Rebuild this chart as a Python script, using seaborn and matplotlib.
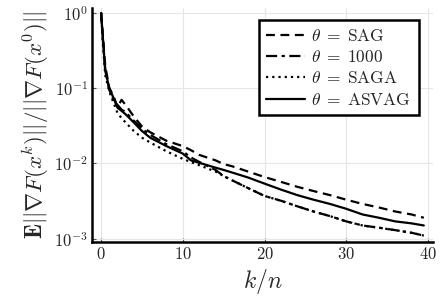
import numpy as np
import pandas as pd
import matplotlib
matplotlib.use("Agg")
import matplotlib.pyplot as plt
import seaborn as sns

# epochs (k/n) and relative gradient norms
k_over_n = [0, 0.25, 0.5, 1, 1.5, 2, 2.5, 3, 4, 5, 6, 8, 10, 11, 12, 14, 15,
            16, 18, 20, 22, 24, 26, 28, 30, 32, 34, 36, 38, 39.5]

sag = [1.0, 0.45, 0.2, 0.1, 0.08, 0.056, 0.07, 0.06, 0.042, 0.031, 0.026,
       0.02, 0.017, 0.015, 0.013, 0.011, 0.0098, 0.0092, 0.0078, 0.0066,
       0.0057, 0.0049, 0.0043, 0.0038, 0.0033, 0.0029, 0.0026, 0.0023,
       0.0021, 0.0019]
theta_1000 = [1.0, 0.4, 0.18, 0.095, 0.07, 0.06, 0.052, 0.048, 0.037, 0.029,
              0.024, 0.018, 0.0145, 0.012, 0.0105, 0.0082, 0.0068, 0.006,
              0.0047, 0.0037, 0.0032, 0.0027, 0.0023, 0.002, 0.0017, 0.0015,
              0.0014, 0.0013, 0.0012, 0.0011]
saga = [1.0, 0.35, 0.15, 0.09, 0.065, 0.047, 0.04, 0.035, 0.027, 0.022,
        0.019, 0.0145, 0.0115, 0.0104, 0.0095, 0.0078, 0.0068, 0.006,
        0.0047, 0.0037, 0.0032, 0.0027, 0.0023, 0.002, 0.0017, 0.0015,
        0.0014, 0.0013, 0.0012, 0.0011]
asvag = [1.0, 0.4, 0.17, 0.1, 0.075, 0.055, 0.05, 0.045, 0.035, 0.027,
         0.022, 0.017, 0.0135, 0.011, 0.0102, 0.0088, 0.0082, 0.0076,
         0.0065, 0.0054, 0.0045, 0.0038, 0.0033, 0.0029, 0.0025, 0.0021,
         0.0019, 0.0017, 0.0016, 0.0015]

labels = [r"$\theta\;=\;\mathrm{SAG}$", r"$\theta\;=\;1000$",
          r"$\theta\;=\;\mathrm{SAGA}$", r"$\theta\;=\;\mathrm{ASVAG}$"]
series = [sag, theta_1000, saga, asvag]
styles = [(0, (4, 2.5)), (0, (5, 2, 1.5, 2)), (0, (1, 1.8)), "-"]

sns.set_theme(style="whitegrid")
plt.rcParams["font.family"] = ["cmr10", "DejaVu Serif"]
plt.rcParams["mathtext.fontset"] = "cm"
plt.rcParams["axes.unicode_minus"] = False
plt.rcParams["axes.formatter.use_mathtext"] = True

fig = plt.figure(figsize=(4.43, 3.06), dpi=100)
ax = fig.add_axes([0.208, 0.21, 0.769, 0.764])

for vals, lab, ls in zip(series, labels, styles):
    df = pd.DataFrame({"x": k_over_n, "y": vals})
    sns.lineplot(data=df, x="x", y="y", ax=ax, color="black", lw=1.6,
                 linestyle=ls, label=lab)

ax.set_yscale("log")
ax.set_xlim(-1.1, 40.6)
ax.set_ylim(10 ** -3.04, 10 ** 0.066)
ax.set_xticks([0, 10, 20, 30, 40])
ax.set_yticks([1e-3, 1e-2, 1e-1, 1e0])
ax.minorticks_off()
ax.grid(True, color="#e6e6e6", lw=0.8)
ax.set_facecolor("white")

for s in ["top", "right"]:
    ax.spines[s].set_visible(False)
for s in ["left", "bottom"]:
    ax.spines[s].set_color("black")
    ax.spines[s].set_linewidth(1.8)

ax.tick_params(axis="both", direction="in", length=3, width=0.8,
               color="#555555", labelsize=12, pad=3, left=True, bottom=True)

ax.set_xlabel(r"$k/n$", fontsize=17, labelpad=4)
ax.set_ylabel(r"$\mathbf{E}||\nabla F(x^k)||/||\nabla F(x^0)||$",
              fontsize=16.5, labelpad=2)

leg = ax.legend(loc="upper right", fontsize=12.5, frameon=True, fancybox=False,
                handlelength=2.2, handletextpad=0.4, borderpad=0.45,
                labelspacing=0.3, bbox_to_anchor=(0.985, 0.985))
leg.get_frame().set_edgecolor("black")
leg.get_frame().set_linewidth(1.8)
leg.get_frame().set_alpha(1)

fig.savefig("out.png", dpi=100)
